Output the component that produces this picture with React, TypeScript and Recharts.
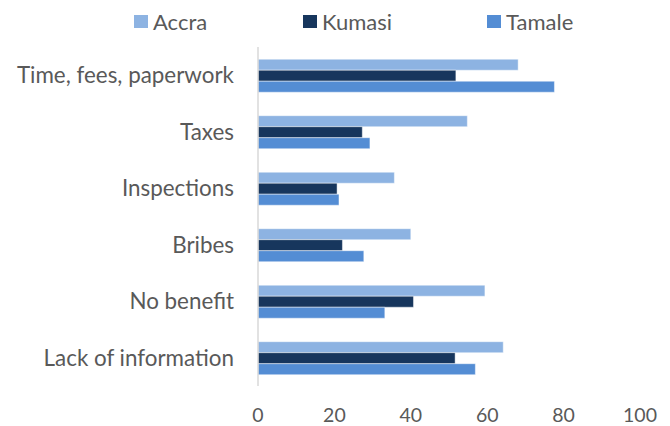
import { Bar, BarChart, XAxis, YAxis } from "recharts";

const categories = ["Time, fees, paperwork", "Taxes", "Inspections", "Bribes", "No benefit", "Lack of information"];
const accra = [68.1, 54.8, 35.7, 40.0, 59.4, 64.2];
const kumasi = [51.8, 27.3, 20.7, 22.1, 40.7, 51.6];
const tamale = [77.6, 29.3, 21.2, 27.7, 33.2, 56.9];
const xTicks = [0, 20, 40, 60, 80, 100];

const series = [
  { key: "Accra", color: "#8DB3E2" },
  { key: "Kumasi", color: "#17365D" },
  { key: "Tamale", color: "#548DD4" },
];

const data = categories.map((c, i) => ({ name: c, Accra: accra[i], Kumasi: kumasi[i], Tamale: tamale[i] }));

const font = "Lato, 'Open Sans', sans-serif";
const textColor = "#595959";
const legendLeft = [134, 303, 487];

function LegendBox() {
  return (
    <div style={{ position: "absolute", top: 8, left: 0, width: 670, height: 26, fontFamily: font, fontSize: 22, color: textColor }}>
      {series.map((s, i) => (
        <div key={s.key} style={{ position: "absolute", left: legendLeft[i], top: 0, display: "flex", alignItems: "center", height: 26 }}>
          <span style={{ width: 14, height: 13, background: s.color, marginRight: 5, display: "inline-block" }} />
          {s.key}
        </div>
      ))}
    </div>
  );
}

export default function App() {
  return (
    <div style={{ position: "absolute", left: 0, top: 0, width: 670, height: 426, background: "#fff" }}>
      <BarChart
        width={670}
        height={426}
        data={data}
        layout="vertical"
        margin={{ top: 47, right: 30, bottom: 0, left: 0 }}
        barCategoryGap="21.6%"
        barGap={0}
      >
        <XAxis
          type="number"
          domain={[0, 100]}
          ticks={xTicks}
          axisLine={false}
          tickLine={false}
          tickSize={0}
          tickMargin={22}
          height={40}
          tick={{ fill: textColor, fontSize: 19.5, fontFamily: font }}
        />
        <YAxis
          type="category"
          dataKey="name"
          width={258}
          axisLine={{ stroke: "#d9d9d9", strokeWidth: 1.5 }}
          tickLine={false}
          tickSize={0}
          tickMargin={24}
          tick={{ fill: textColor, fontSize: 22.4, fontFamily: font }}
        />
        {series.map((s) => (
          <Bar key={s.key} dataKey={s.key} fill={s.color} stroke="#ffffff" strokeOpacity={0.6} strokeWidth={0.75} isAnimationActive={false} />
        ))}
      </BarChart>
      <LegendBox />
    </div>
  );
}
